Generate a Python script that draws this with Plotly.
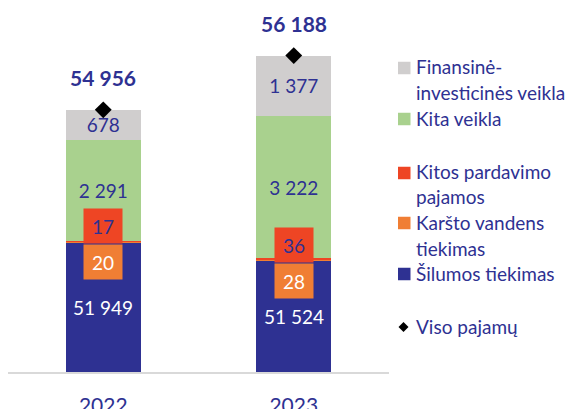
import plotly.graph_objects as go

years = ["2022", "2023"]
silumos = [51949, 51524]
karsto = [20, 28]
kitos_pard = [17, 36]
kita = [2291, 3222]
finans = [678, 1377]
totals = [54956, 56188]

names = {
    "fin": "Finansinė-<br>investicinės veikla",
    "kita": "Kita veikla",
    "kitos": "Kitos pardavimo<br>pajamos",
    "karsto": "Karšto vandens<br>tiekimas",
    "sil": "Šilumos tiekimas",
    "viso": "Viso pajamų",
}

C_BLUE = "#2E3192"
C_ORANGE = "#F07E34"
C_RED = "#EE4524"
C_GREEN = "#A9D18E"
C_GRAY = "#D0CECE"
TXT = "#2E3192"
FONT = "Lato"

Y_MIN, Y_MAX = 49000, 57270


def fmt(v):
    return f"{v:,}".replace(",", " ")


fig = go.Figure()


def add_bar(vals, color, name, tcolor, show_text=True):
    fig.add_trace(go.Bar(
        x=years, y=vals, name=name, marker=dict(color=color, line=dict(width=0)),
        text=[fmt(v) for v in vals] if show_text else None,
        textposition="inside" if show_text else "none",
        insidetextanchor="middle", textangle=0,
        textfont=dict(color=tcolor, size=19, family=FONT),
        showlegend=False, hoverinfo="skip",
    ))


add_bar(silumos, C_BLUE, names["sil"], "white", False)
add_bar(karsto, C_ORANGE, names["karsto"], "white", False)
add_bar(kitos_pard, C_RED, names["kitos"], TXT, False)
add_bar(kita, C_GREEN, names["kita"], TXT)
add_bar(finans, C_GRAY, names["fin"], TXT)

fig.add_trace(go.Scatter(
    x=years, y=totals, mode="markers",
    marker=dict(symbol="diamond", size=13, color="black"),
    showlegend=False, hoverinfo="skip",
))

annotations = []
for i, yr in enumerate(years):
    # on a category axis annotations take the category index
    annotations.append(dict(
        x=i, y=totals[i], xref="x", yref="y", text=f"<b>{fmt(totals[i])}</b>",
        showarrow=False, yshift=32, font=dict(size=21, color=TXT, family=FONT),
    ))
    # label of the base segment, centred in its visible part
    annotations.append(dict(
        x=i, y=(Y_MIN + silumos[i]) / 2, xref="x", yref="y", text=fmt(silumos[i]),
        showarrow=False, font=dict(size=19, color="white", family=FONT),
    ))
    annotations.append(dict(
        x=i, y=silumos[i], xref="x", yref="y", text=fmt(kitos_pard[i]),
        showarrow=False, yanchor="bottom", yshift=-2, width=38, height=34,
        bgcolor=C_RED, borderpad=0, font=dict(size=19, color=TXT, family=FONT),
    ))
    annotations.append(dict(
        x=i, y=silumos[i], xref="x", yref="y", text=fmt(karsto[i]),
        showarrow=False, yanchor="top", yshift=-2, width=38, height=34,
        bgcolor=C_ORANGE, borderpad=0, font=dict(size=19, color="white", family=FONT),
    ))

# page has an 8px body margin: work in screenshot pixels, convert to figure paper
OFF = 8
W, H = 573 - OFF, 409 - OFF
L, R, T, B = 0, 184, 0, 37
pw, ph = W - L - R, H - T - B


def px2paper(px, py):
    return (px - OFF - L) / pw, (H - B - (py - OFF)) / ph


legend_items = [
    ("fin", C_GRAY, 68, [67, 93]),
    ("kita", C_GREEN, 119, [118]),
    ("kitos", C_RED, 173, [172, 197]),
    ("karsto", C_ORANGE, 223, [222, 248]),
    ("sil", C_BLUE, 274, [273]),
]
shapes = []
for key, color, ymark, lines in legend_items:
    x0, y0 = px2paper(398, ymark + 6.25)
    x1, y1 = px2paper(410.5, ymark - 6.25)
    shapes.append(dict(type="rect", xref="paper", yref="paper", x0=x0, x1=x1, y0=y0, y1=y1,
                       fillcolor=color, line=dict(width=0)))
    parts = names[key].split("<br>")
    for txt, ly in zip(parts, lines):
        ax, ay = px2paper(414, ly)
        annotations.append(dict(x=ax, y=ay, xref="paper", yref="paper", text=txt,
                                showarrow=False, xanchor="left", yanchor="middle",
                                font=dict(size=19, color=TXT, family=FONT)))

# diamond legend marker
cx, cy = 403.5, 327
pts = [(cx, cy - 5), (cx + 5, cy), (cx, cy + 5), (cx - 5, cy)]
pp = [px2paper(*p) for p in pts]
path = "M " + " L ".join(f"{a},{b}" for a, b in pp) + " Z"
shapes.append(dict(type="path", xref="paper", yref="paper", path=path,
                   fillcolor="black", line=dict(width=0)))
ax, ay = px2paper(414, 326)
annotations.append(dict(x=ax, y=ay, xref="paper", yref="paper", text=names["viso"],
                        showarrow=False, xanchor="left", yanchor="middle",
                        font=dict(size=19, color=TXT, family=FONT)))

fig.update_layout(
    width=W, height=H, margin=dict(l=L, r=R, t=T, b=B, autoexpand=False),
    barmode="stack", bargap=0.606,
    plot_bgcolor="white", paper_bgcolor="white",
    font=dict(family=FONT, color=TXT),
    xaxis=dict(type="category", range=[-0.5, 1.5], showline=True, linecolor="#D9D9D9",
               linewidth=1.5, ticks="", automargin=False,
               tickfont=dict(size=21, color=TXT, family=FONT), showgrid=False,
               ticklabelstandoff=14),
    yaxis=dict(range=[Y_MIN, Y_MAX], visible=False, showgrid=False),
    annotations=annotations, shapes=shapes,
)

fig.write_html("out.html")
